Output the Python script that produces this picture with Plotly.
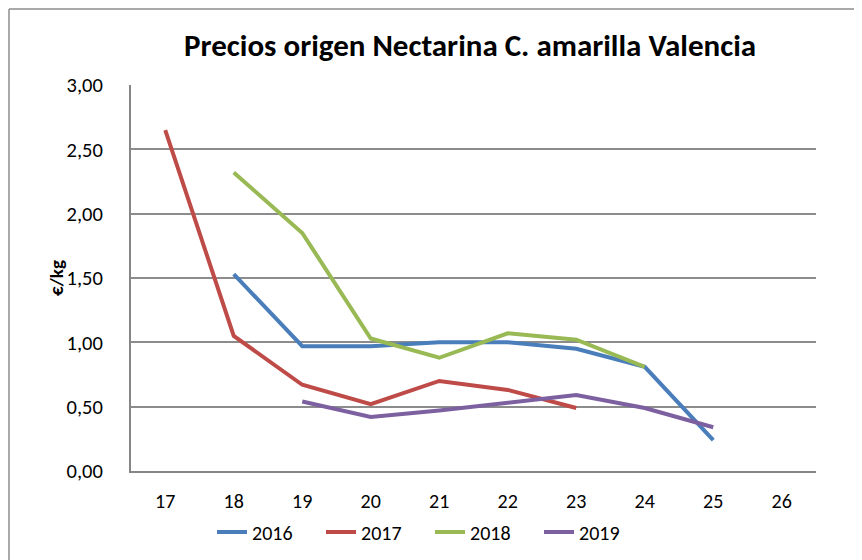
import plotly.graph_objects as go

semanas = ["17", "18", "19", "20", "21", "22", "23", "24", "25", "26"]
s2016 = [None, 1.53, 0.97, 0.97, 1.00, 1.00, 0.95, 0.81, 0.24, None]
s2017 = [2.65, 1.05, 0.67, 0.52, 0.70, 0.63, 0.49, None, None, None]
s2018 = [None, 2.32, 1.85, 1.03, 0.88, 1.07, 1.02, 0.81, None, None]
s2019 = [None, None, 0.54, 0.42, 0.47, 0.53, 0.59, 0.49, 0.34, None]
y_ticks = [0, 0.5, 1.0, 1.5, 2.0, 2.5, 3.0]

series = [
    ("2016", s2016, "#4a7ebb"),
    ("2017", s2017, "#be4b48"),
    ("2018", s2018, "#98b954"),
    ("2019", s2019, "#7d60a0"),
]

fig = go.Figure()
for name, vals, col in series:
    fig.add_trace(go.Scatter(x=semanas, y=vals, name=name, mode="lines",
                             line=dict(color=col, width=4), connectgaps=False))

font_main = "Carlito, Calibri, 'Liberation Sans Narrow', Lato, sans-serif"

# page body has an 8px default margin, so margins are offset by 8px
fig.update_layout(
    width=862, height=560,
    margin=dict(l=123, r=54, t=77, b=97, autoexpand=False),
    paper_bgcolor="white", plot_bgcolor="white",
    separators=",.",
    font=dict(family=font_main, size=20, color="black"),
    title=dict(text="<b>Precios origen Nectarina C. amarilla Valencia</b>",
               xref="paper", x=0.495, xanchor="center",
               yref="container", y=1 - 37 / 560, yanchor="middle",
               font=dict(size=31, family=font_main)),
    showlegend=True,
    legend=dict(orientation="h", x=(212 - 131) / 685, xanchor="left",
                y=-0.158, yanchor="middle",
                entrywidth=64, entrywidthmode="pixels",
                font=dict(size=20), traceorder="normal"),
    xaxis=dict(type="category", categoryorder="array", categoryarray=semanas,
               range=[-0.5, 9.5], showgrid=False, showline=True,
               linecolor="#868686", linewidth=2, ticks="", zeroline=False,
               ticklabelstandoff=11, tickfont=dict(size=20), automargin=False),
    yaxis=dict(range=[0, 3], tickvals=y_ticks, tickformat=".2f",
               showgrid=True, gridcolor="#8c8c8c", gridwidth=1.5,
               showline=True, linecolor="#868686", linewidth=2,
               zeroline=False, ticks="", ticklabelstandoff=22,
               tickfont=dict(size=20.5), automargin=False),
)

fig.add_annotation(text="<b>€/kg</b>", xref="paper", yref="paper",
                   x=(56 - 131) / 685, y=0.5, xanchor="center", yanchor="middle",
                   textangle=-90, showarrow=False, font=dict(size=19))

# outer chart border: left and top edges (figure pixel 1)
bx = (1 - 123) / 685
by = (463 - 1) / 386
fig.add_shape(type="line", xref="paper", yref="paper", x0=bx, x1=bx, y0=-0.5, y1=by,
              line=dict(color="#8c8c8c", width=1.5))
fig.add_shape(type="line", xref="paper", yref="paper", x0=bx, x1=1.2, y0=by, y1=by,
              line=dict(color="#8c8c8c", width=1.5))

fig.write_html("out.html")
